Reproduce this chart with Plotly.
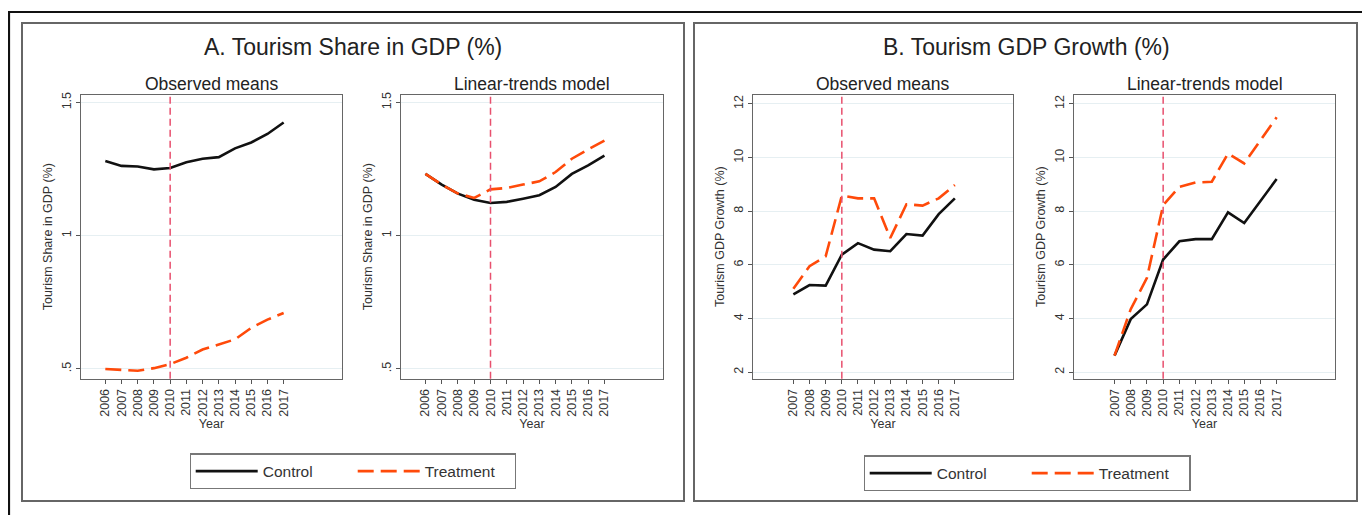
import plotly.graph_objects as go

# page body has an 8px margin: the figure starts at page pixel (8, 8)
OFF = 8
W, H = 1370 - OFF, 515 - OFF
FONT = "Liberation Sans, Arial, sans-serif"

years_a = list(range(2006, 2018))
years_b = list(range(2007, 2018))

# Panel A: Tourism share in GDP (%)
a_obs_control = [1.280, 1.262, 1.260, 1.249, 1.254, 1.276, 1.289, 1.295, 1.328, 1.350, 1.382, 1.425]
a_obs_treat = [0.500, 0.497, 0.493, 0.503, 0.518, 0.542, 0.573, 0.592, 0.611, 0.654, 0.685, 0.710]
a_lin_control = [1.232, 1.192, 1.158, 1.135, 1.123, 1.127, 1.139, 1.152, 1.183, 1.232, 1.264, 1.301]
a_lin_treat = [1.232, 1.192, 1.158, 1.142, 1.174, 1.179, 1.192, 1.204, 1.239, 1.289, 1.324, 1.357]

# Panel B: Tourism GDP growth (%)
b_obs_control = [4.90, 5.25, 5.23, 6.38, 6.81, 6.57, 6.51, 7.15, 7.09, 7.89, 8.48]
b_obs_treat = [5.11, 5.95, 6.32, 8.58, 8.48, 8.48, 7.00, 8.26, 8.21, 8.48, 8.98]
b_lin_control = [2.62, 3.98, 4.53, 6.20, 6.88, 6.96, 6.96, 7.96, 7.56, 8.36, 9.20]
b_lin_treat = [2.62, 4.35, 5.52, 8.23, 8.91, 9.07, 9.10, 10.15, 9.78, 10.64, 11.50]

a_yticks = [0.5, 1.0, 1.5]
a_yticktext = [".5", "1", "1.5"]
b_yticks = [2, 4, 6, 8, 10, 12]

panel_titles = ["A. Tourism Share in GDP (%)", "B. Tourism GDP Growth (%)"]
sub_titles = ["Observed means", "Linear-trends model"]
a_ytitle = "Tourism Share in GDP (%)"
b_ytitle = "Tourism GDP Growth (%)"
treat_year = 2010

# plot frames in page pixels: (left, right, top, bottom)
frames = [(81, 342, 92, 378), (401, 663, 92, 378), (753, 1013, 92, 378), (1074, 1335, 92, 378)]

def px_x(v):
    return (v - OFF) / W

def px_y(v):
    return 1 - (v - OFF) / H

fig = go.Figure()

CTRL_COLOR = "#111111"
TREAT_COLOR = "#ff4a0a"
VLINE_COLOR = "#e8506e"

datasets = [
    (years_a, a_obs_control, a_obs_treat, "legend", True),
    (years_a, a_lin_control, a_lin_treat, "legend", False),
    (years_b, b_obs_control, b_obs_treat, "legend2", True),
    (years_b, b_lin_control, b_lin_treat, "legend2", False),
]

for i, (yrs, c, t, leg, show) in enumerate(datasets):
    n = i + 1
    xa = "x" if n == 1 else f"x{n}"
    ya = "y" if n == 1 else f"y{n}"
    fig.add_trace(go.Scatter(x=yrs, y=c, mode="lines", name="Control",
                             line=dict(color=CTRL_COLOR, width=2.6),
                             xaxis=xa, yaxis=ya, legend=leg, showlegend=show))
    fig.add_trace(go.Scatter(x=yrs, y=t, mode="lines", name="Treatment",
                             line=dict(color=TREAT_COLOR, width=2.6, dash="16px,7px"),
                             xaxis=xa, yaxis=ya, legend=leg, showlegend=show))

layout = dict(
    width=W, height=H,
    margin=dict(l=0, r=0, t=0, b=0),
    paper_bgcolor="white", plot_bgcolor="white",
    font=dict(family=FONT, color="#333333"),
)

for i, (l, r, t, b) in enumerate(frames):
    n = i + 1
    is_a = i < 2
    xkey = "xaxis" if n == 1 else f"xaxis{n}"
    ykey = "yaxis" if n == 1 else f"yaxis{n}"
    yrs = years_a if is_a else years_b
    layout[xkey] = dict(
        domain=[px_x(l), px_x(r)], anchor="y" if n == 1 else f"y{n}",
        range=[2004.5, 2020.6], tickvals=yrs, ticktext=[str(y) for y in yrs],
        tickangle=-90, tickfont=dict(size=12.5, color="#333333"),
        ticks="outside", ticklen=4, tickcolor="#555555",
        showline=True, mirror=True, linecolor="#666666", linewidth=1.3,
        showgrid=False, zeroline=False,
        title=dict(text="Year", font=dict(size=12.5, color="#333333"), standoff=3),
    )
    layout[ykey] = dict(
        domain=[px_y(b), px_y(t)], anchor="x" if n == 1 else f"x{n}",
        range=[0.463, 1.53] if is_a else [1.755, 12.35],
        tickvals=a_yticks if is_a else b_yticks,
        ticktext=a_yticktext if is_a else [str(v) for v in b_yticks],
        tickangle=-90, tickfont=dict(size=12.5, color="#333333"),
        ticks="outside", ticklen=4, tickcolor="#555555",
        showline=True, mirror=True, linecolor="#666666", linewidth=1.3,
        showgrid=True, gridcolor="#e6eff2", gridwidth=1.2, zeroline=False,
        title=dict(text=a_ytitle if is_a else b_ytitle,
                   font=dict(size=12.5, color="#333333"), standoff=4),
    )

fig.update_layout(**layout)

shapes = []
# outer border
shapes.append(dict(type="rect", xref="paper", yref="paper",
                   x0=px_x(9), x1=px_x(1365), y0=px_y(540), y1=px_y(9),
                   line=dict(color="#111111", width=2.2), layer="below"))
# panel boxes
for (l, r) in [(22, 684), (694, 1357)]:
    shapes.append(dict(type="rect", xref="paper", yref="paper",
                       x0=px_x(l), x1=px_x(r), y0=px_y(501), y1=px_y(20),
                       line=dict(color="#666666", width=2), layer="below"))
# vertical dashed line at treatment year
for i in range(4):
    n = i + 1
    xa = "x" if n == 1 else f"x{n}"
    ya = "y" if n == 1 else f"y{n}"
    shapes.append(dict(type="line", xref=xa, yref=f"{ya} domain",
                       x0=treat_year, x1=treat_year, y0=0, y1=1,
                       line=dict(color=VLINE_COLOR, width=1.5, dash="7px,4px")))
fig.update_layout(shapes=shapes)

annotations = []
for txt, cx in zip(panel_titles, [353, 1026]):
    annotations.append(dict(text=txt, x=px_x(cx), y=px_y(44), xref="paper", yref="paper",
                            showarrow=False, xanchor="center", yanchor="middle",
                            font=dict(size=23, family=FONT, color="#222222")))
for i, (l, r, t, b) in enumerate(frames):
    annotations.append(dict(text=sub_titles[i % 2], x=px_x((l + r) / 2), y=px_y(81),
                            xref="paper", yref="paper", showarrow=False,
                            xanchor="center", yanchor="middle",
                            font=dict(size=17.5, family=FONT, color="#222222")))
fig.update_layout(annotations=annotations)

leg_common = dict(orientation="h", xanchor="center", yanchor="top",
                  bordercolor="#777777", borderwidth=1.2, bgcolor="white",
                  font=dict(size=15.5, family=FONT, color="#333333"),
                  itemwidth=62, entrywidth=85, entrywidthmode="pixels")
fig.update_layout(
    legend=dict(x=px_x(353), y=px_y(453), **leg_common),
    legend2=dict(x=px_x(1027), y=px_y(455), **leg_common),
)

fig.write_html("out.html")
